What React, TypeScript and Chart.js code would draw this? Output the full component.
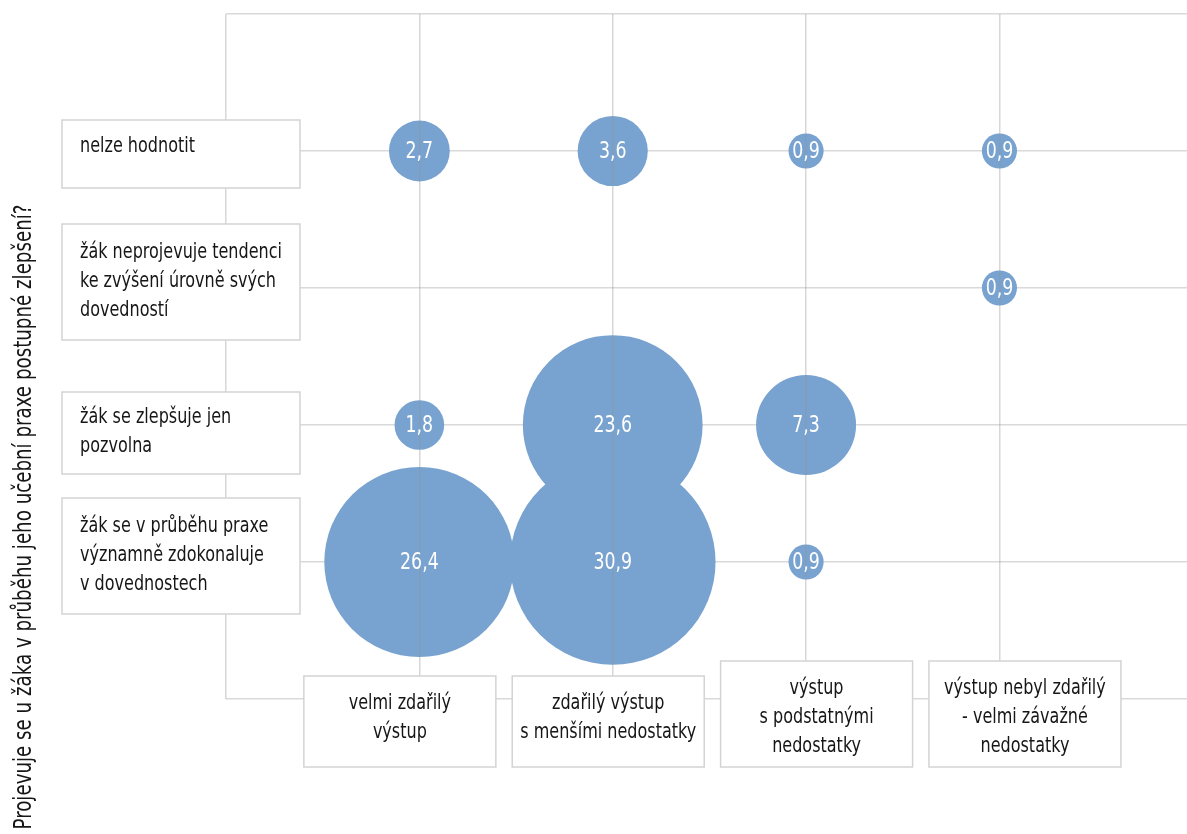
import React, { useEffect, useRef } from "react";
import { Chart, registerables } from "chart.js";

Chart.register(...registerables);

// Categories (x: columns, y: rows from bottom to top)
const xCategories: string[][] = [
  ["velmi zdařilý", "výstup"],
  ["zdařilý výstup", "s menšími nedostatky"],
  ["výstup", "s podstatnými", "nedostatky"],
  ["výstup nebyl zdařilý", "- velmi závažné", "nedostatky"],
];
const yCategories: string[][] = [
  ["žák se v průběhu praxe", "významně zdokonaluje", "v dovednostech"],
  ["žák se zlepšuje jen", "pozvolna"],
  ["žák neprojevuje tendenci", "ke zvýšení úrovně svých", "dovedností"],
  ["nelze hodnotit"],
];
const yTitle = "Projevuje se u žáka v průběhu jeho učební praxe postupné zlepšení?";

// Values (%) per column, rows in yCategories order
const velmiZdarilyVystup: (number | null)[] = [26.4, 1.8, null, 2.7];
const zdarilyVystup: (number | null)[] = [30.9, 23.6, null, 3.6];
const podstatneNedostatky: (number | null)[] = [0.9, 7.3, null, 0.9];
const nezdarilyVystup: (number | null)[] = [null, null, 0.9, 0.9];

const columns = [velmiZdarilyVystup, zdarilyVystup, podstatneNedostatky, nezdarilyVystup];

const FONT = "'Liberation Sans Narrow', 'DejaVu Sans Condensed', 'Roboto Condensed', 'Noto Sans', sans-serif";
const BUBBLE = "#78a2cf";
const BOX_BORDER = "#d3d3d3";
const TEXT = "#161616";
const BUBBLE_SCALE = 18.5;
const SQUEEZE = 0.81;

function fmt(v: number) {
  return v.toFixed(1).replace(".", ",");
}

function squeezedText(ctx: CanvasRenderingContext2D, t: string, x: number, y: number, f = SQUEEZE) {
  if (!t) return;
  const w = ctx.measureText(t).width;
  ctx.fillText(t, x, y, w * f);
}

const labelsPlugin = {
  id: "labelsPlugin",
  afterDraw(chart: any) {
    const { ctx, chartArea, scales } = chart;
    const xs = scales.x;
    const ys = scales.y;
    ctx.save();

    // bubble value labels
    const meta = chart.getDatasetMeta(0);
    ctx.fillStyle = "#ffffff";
    ctx.font = `23px ${FONT}`;
    ctx.textAlign = "center";
    ctx.textBaseline = "middle";
    meta.data.forEach((el: any, i: number) => {
      const d = chart.data.datasets[0].data[i];
      squeezedText(ctx, fmt(d.v), el.x, el.y + 1, 0.84);
    });

    // y category boxes
    ctx.font = `22px ${FONT}`;
    ctx.textAlign = "left";
    yCategories.forEach((lines, i) => {
      const cy = ys.getPixelForValue(i + 1);
      const n = lines.length;
      const h = n === 1 ? 68 : n === 2 ? 82 : 116;
      const left = chartArea.left - 164;
      const w = 238;
      const top = cy - h / 2 + (n === 1 ? 3 : n === 2 ? 8 : -6);
      ctx.fillStyle = "#ffffff";
      ctx.fillRect(left, top, w, h);
      ctx.strokeStyle = BOX_BORDER;
      ctx.lineWidth = 1.5;
      ctx.strokeRect(left, top, w, h);
      ctx.fillStyle = TEXT;
      const lh = 29;
      const startY = n === 1 ? top + 26 : top + h / 2 - ((n - 1) * lh) / 2 - 1;
      lines.forEach((t, j) => squeezedText(ctx, t, left + 18, startY + j * lh));
    });

    // x category boxes
    ctx.textAlign = "center";
    const bottom = chartArea.bottom + 68;
    xCategories.forEach((lines, i) => {
      const cx = xs.getPixelForValue(i + 1) + (i - 1.3) * 15;
      const n = lines.length;
      const h = 91 + 15 * (n - 2);
      const w = 192;
      const top = bottom - h;
      ctx.fillStyle = "#ffffff";
      ctx.fillRect(cx - w / 2, top, w, h);
      ctx.strokeStyle = BOX_BORDER;
      ctx.lineWidth = 1.5;
      ctx.strokeRect(cx - w / 2, top, w, h);
      ctx.fillStyle = TEXT;
      lines.forEach((t, j) => squeezedText(ctx, t, cx, top + 27 + j * 29));
    });

    // y axis title
    ctx.translate(24, 517);
    ctx.rotate(-Math.PI / 2);
    ctx.font = `25px ${FONT}`;
    ctx.fillStyle = TEXT;
    ctx.textAlign = "center";
    ctx.textBaseline = "middle";
    ctx.fillText(yTitle, 0, 0, 625);
    ctx.restore();
  },
};

export default function App() {
  const ref = useRef<HTMLCanvasElement | null>(null);
  useEffect(() => {
    if (!ref.current) return;
    const data: any[] = [];
    columns.forEach((col, xi) => {
      col.forEach((v, yi) => {
        if (v !== null) data.push({ x: xi + 1, y: yi + 1, r: Math.sqrt(v) * BUBBLE_SCALE, v });
      });
    });
    const chart = new Chart(ref.current, {
      type: "bubble",
      data: {
        datasets: [
          {
            data,
            backgroundColor: BUBBLE,
            borderWidth: 0,
            hoverRadius: 0,
            clip: false as any,
          } as any,
        ],
      },
      options: {
        animation: false,
        responsive: true,
        maintainAspectRatio: false,
        layout: { autoPadding: false, padding: { left: 226, top: 14, right: 0, bottom: 135 } },
        plugins: { legend: { display: false }, tooltip: { enabled: false } },
        scales: {
          x: {
            type: "linear",
            min: 0,
            max: 4.97,
            ticks: { display: false, stepSize: 1, includeBounds: false },
            grid: { color: "rgba(150,150,150,0.38)", lineWidth: 1.5, drawTicks: false, z: 1 } as any,
            border: { display: false },
          },
          y: {
            type: "linear",
            min: 0,
            max: 5,
            ticks: { display: false, stepSize: 1 },
            grid: { color: "#d9d9d9", lineWidth: 1.5, drawTicks: false },
            border: { display: false },
          },
        },
      },
      plugins: [labelsPlugin],
    });
    return () => chart.destroy();
  }, []);
  return (
    <div style={{ position: "absolute", left: 0, top: 0, width: 1187, height: 834, background: "#fff" }}>
      <canvas ref={ref} />
    </div>
  );
}
